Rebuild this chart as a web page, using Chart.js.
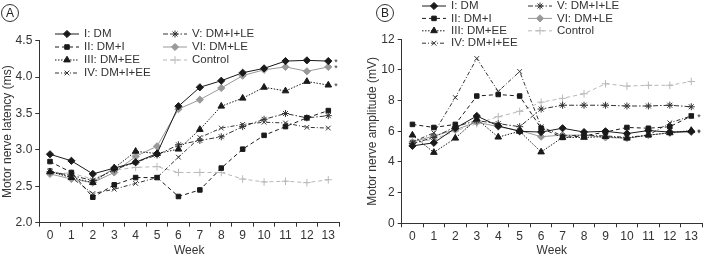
<!DOCTYPE html>
<html>
<head>
<meta charset="utf-8">
<script src="https://cdn.jsdelivr.net/npm/chart.js@4.4.1/dist/chart.umd.min.js"></script>
<style>
html, body { margin: 0; padding: 0; background: #fff; }
#wrap { position: relative; width: 707px; height: 258px; overflow: hidden; }
.panel { position: absolute; top: 0; height: 258px; }
#pa { left: 0; width: 345px; }
#pb { left: 350px; width: 357px; }
</style>
</head>
<body>
<div id="wrap">
  <div class="panel" id="pa"><canvas id="ca" width="345" height="258"></canvas></div>
  <div class="panel" id="pb"><canvas id="cb" width="357" height="258"></canvas></div>
</div>
<script>
const weeks = ['0', '1', '2', '3', '4', '5', '6', '7', '8', '9', '10', '11', '12', '13'];
const groups = ['I: DM', 'II: DM+I', 'III: DM+EE', 'IV: DM+I+EE', 'V: DM+I+LE', 'VI: DM+LE', 'Control'];

// A: motor nerve latency (ms)
const latDM      = [2.94, 2.85, 2.67, 2.75, 2.83, 2.95, 3.60, 3.86, 3.95, 4.06, 4.12, 4.22, 4.23, 4.22];
const latDMI     = [2.84, 2.69, 2.35, 2.52, 2.62, 2.62, 2.36, 2.45, 2.75, 3.01, 3.20, 3.32, 3.44, 3.54];
const latDMEE    = [2.70, 2.62, 2.55, 2.75, 2.98, 2.95, 3.01, 3.28, 3.60, 3.71, 3.86, 3.81, 3.94, 3.89];
const latDMIEE   = [2.72, 2.62, 2.40, 2.46, 2.54, 2.62, 2.90, 3.17, 3.30, 3.35, 3.38, 3.37, 3.31, 3.30];
const latDMILE   = [2.70, 2.65, 2.58, 2.73, 2.83, 2.93, 3.07, 3.13, 3.18, 3.32, 3.42, 3.50, 3.44, 3.47];
const latDMLE    = [2.67, 2.60, 2.55, 2.69, 2.91, 3.05, 3.56, 3.69, 3.85, 4.02, 4.10, 4.14, 4.08, 4.14];
const latControl = [2.68, 2.68, 2.60, 2.72, 2.76, 2.77, 2.69, 2.69, 2.69, 2.60, 2.56, 2.57, 2.55, 2.59];

// B: motor nerve amplitude (mV)
const ampDM      = [5.05, 5.25, 6.20, 7.00, 6.35, 6.00, 5.95, 6.20, 5.95, 6.00, 5.85, 6.05, 5.95, 6.00];
const ampDMI     = [6.45, 6.25, 6.45, 8.30, 8.40, 8.30, 6.20, 5.60, 5.70, 5.95, 6.25, 6.20, 6.30, 7.00];
const ampDMEE    = [5.75, 4.62, 5.55, 6.80, 5.62, 6.00, 4.65, 5.60, 5.60, 5.65, 5.55, 5.75, 5.90, 6.05];
const ampDMIEE   = [5.30, 5.90, 8.20, 10.75, 8.60, 9.90, 6.30, 5.70, 5.75, 5.70, 5.60, 5.75, 6.55, 7.00];
const ampDMILE   = [5.20, 5.60, 6.30, 6.70, 6.50, 6.30, 7.45, 7.70, 7.70, 7.70, 7.65, 7.65, 7.70, 7.60];
const ampDMLE    = [5.30, 5.70, 6.10, 6.60, 6.30, 6.05, 5.65, 5.75, 5.75, 5.60, 5.55, 5.75, 5.90, 5.95];
const ampControl = [5.20, 5.50, 6.00, 6.50, 6.95, 7.30, 7.90, 8.15, 8.45, 9.10, 8.95, 9.00, 9.00, 9.25];

const FONT = '"Liberation Sans", Arial, Helvetica, sans-serif';
const INK = '#333';

// line + marker look of each group
const styles = [
    { color: '#1a1a1a', dash: [], point: 'rectRot', r: 3.6 },
    { color: '#1a1a1a', dash: [4, 3], point: 'rect', r: 3.2 },
    { color: '#1a1a1a', dash: [1.5, 1.5], point: 'triangle', r: 3.8 },
    { color: '#333333', dash: [4, 2, 1, 2], point: 'crossRot', r: 3.3 },
    { color: '#333333', dash: [5, 2, 1.5, 2], point: 'star', r: 3.5 },
    { color: '#999999', dash: [], point: 'rectRot', r: 3.6 },
    { color: '#b8b8b8', dash: [4, 3], point: 'cross', r: 3.8 }
];

function makeDatasets(series) {
    return series.map((data, i) => ({
        label: groups[i],
        data: data,
        borderColor: styles[i].color,
        backgroundColor: styles[i].color,
        borderDash: styles[i].dash,
        borderWidth: 1,
        pointStyle: styles[i].point,
        pointRadius: styles[i].r,
        pointBorderWidth: 1,
        pointBorderColor: styles[i].color,
        pointBackgroundColor: styles[i].color,
        tension: 0,
        clip: false
    }));
}

// two column legend drawn by hand (line sample + marker)
const groupLegend = {
    id: 'groupLegend',
    afterDraw(chart, args, o) {
        const ctx = chart.ctx;
        ctx.save();
        ctx.font = '11.5px ' + FONT;
        ctx.textBaseline = 'middle';
        groups.forEach((name, i) => {
            const col = i < 4 ? 0 : 1;
            const row = i < 4 ? i : i - 4;
            const x = o.x[col], y = o.y + row * o.dy;
            const s = styles[i];
            ctx.strokeStyle = s.color;
            ctx.lineWidth = 1;
            ctx.setLineDash(s.dash);
            ctx.beginPath();
            ctx.moveTo(x, y);
            ctx.lineTo(x + o.len, y);
            ctx.stroke();
            ctx.setLineDash([]);
            ctx.fillStyle = s.color;
            Chart.helpers.drawPoint(ctx, { pointStyle: s.point, radius: s.r, borderWidth: 1, rotation: 0 }, x + o.len / 2, y);
            ctx.fillStyle = INK;
            ctx.fillText(name, x + o.len + 5, y);
        });
        ctx.restore();
    }
};

// circled panel letter
const panelTag = {
    id: 'panelTag',
    afterDraw(chart, args, o) {
        const ctx = chart.ctx;
        ctx.save();
        ctx.strokeStyle = INK;
        ctx.lineWidth = 1;
        ctx.beginPath();
        ctx.arc(o.x, o.y, 8.5, 0, Math.PI * 2);
        ctx.stroke();
        ctx.fillStyle = '#222';
        ctx.font = '12px ' + FONT;
        ctx.textAlign = 'center';
        ctx.textBaseline = 'middle';
        ctx.fillText(o.text, o.x, o.y + 0.5);
        ctx.restore();
    }
};

// significance asterisks after last week
const sigMarks = {
    id: 'sigMarks',
    afterDatasetsDraw(chart, args, o) {
        const ctx = chart.ctx;
        ctx.save();
        ctx.fillStyle = INK;
        ctx.font = '9px ' + FONT;
        ctx.textBaseline = 'middle';
        o.sets.forEach(i => {
            const pts = chart.getDatasetMeta(i).data;
            const p = pts[pts.length - 1];
            ctx.fillText('*', p.x + 6, p.y + 1.5);
        });
        ctx.restore();
    }
};

function makeOptions(p) {
    const axisFont = { size: 12, family: FONT };
    return {
        responsive: false,
        animation: false,
        layout: { padding: { left: 0, right: p.padRight, top: p.padTop, bottom: 0 } },
        plugins: {
            legend: { display: false },
            tooltip: { enabled: false },
            groupLegend: p.legend,
            panelTag: p.tag,
            sigMarks: { sets: p.sig }
        },
        scales: {
            x: {
                offset: true,
                grid: { offset: true, drawOnChartArea: false, tickLength: 4, color: INK },
                border: { color: INK },
                ticks: { color: INK, font: axisFont, padding: 2, maxRotation: 0, autoSkip: false },
                title: { display: true, text: 'Week', color: INK, font: axisFont, padding: { top: 0, bottom: 0 } },
                afterFit: s => { s.height = p.xHeight; }
            },
            y: {
                min: p.min,
                max: p.max,
                grid: { drawOnChartArea: false, tickLength: 4, color: INK },
                border: { color: INK },
                ticks: { stepSize: p.step, color: INK, font: axisFont, padding: 3, callback: p.fmt },
                title: { display: true, text: p.yTitle, color: INK, font: axisFont, padding: { top: p.titlePad, bottom: 0 } },
                afterFit: s => { s.width = p.yWidth; }
            }
        }
    };
}

new Chart(document.getElementById('ca'), {
    type: 'line',
    data: {
        labels: weeks,
        datasets: makeDatasets([latDM, latDMI, latDMEE, latDMIEE, latDMILE, latDMLE, latControl])
    },
    options: makeOptions({
        padRight: 6, padTop: 40.7, xHeight: 35.3, yWidth: 39.3, titlePad: 0,
        min: 2, max: 4.5, step: 0.5, fmt: v => v.toFixed(1),
        yTitle: 'Motor nerve latency (ms)',
        legend: { x: [55, 163], y: 34, dy: 13, len: 24 },
        tag: { x: 10, y: 13, text: 'A' },
        sig: [0, 2, 5]
    }),
    plugins: [groupLegend, panelTag, sigMarks]
});

new Chart(document.getElementById('cb'), {
    type: 'line',
    data: {
        labels: weeks,
        datasets: makeDatasets([ampDM, ampDMI, ampDMEE, ampDMIEE, ampDMILE, ampDMLE, ampControl])
    },
    options: makeOptions({
        padRight: 1, padTop: 39.3, xHeight: 34.7, yWidth: 51.7, titlePad: 15,
        min: 0, max: 12, step: 2, fmt: v => String(v),
        yTitle: 'Motor nerve amplitude (mV)',
        legend: { x: [72, 178], y: 6, dy: 12.4, len: 24 },
        tag: { x: 35, y: 13, text: 'B' },
        sig: [1, 2, 5]
    }),
    plugins: [groupLegend, panelTag, sigMarks]
});
</script>
</body>
</html>
